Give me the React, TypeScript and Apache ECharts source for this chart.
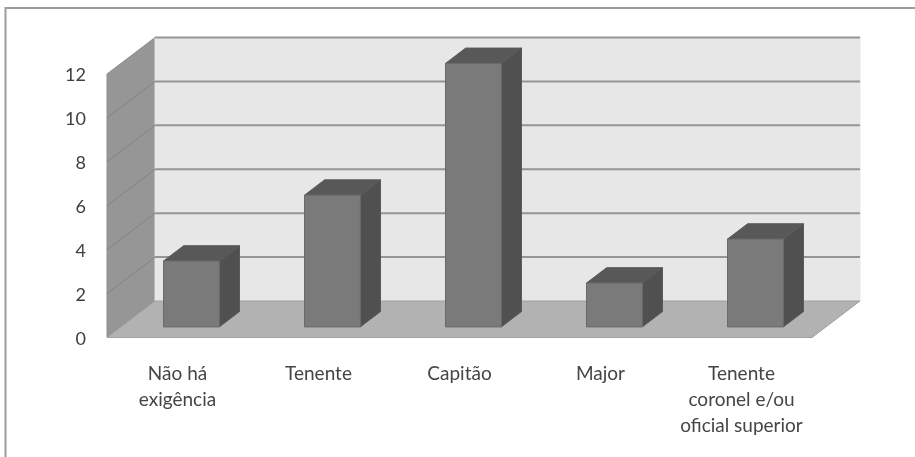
import React, { useEffect, useRef } from "react";
import * as echarts from "echarts";

const categories = ["Não há\nexigência", "Tenente", "Capitão", "Major", "Tenente\ncoronel e/ou\noficial superior"];
const values = [3, 6, 12, 2, 4];
const yTicks = [0, 2, 4, 6, 8, 10, 12];

const DEPTH_X = 48;
const DEPTH_Y = -36.5;
const BAR_NEAR = 0.29;
const BAR_FAR = 0.71;
const BAR_WIDTH_RATIO = 0.396;

const poly = (points: number[][], fill: string, stroke?: string, lineWidth = 1) => ({
  type: "polygon",
  shape: { points },
  style: { fill, stroke: stroke ?? fill, lineWidth },
});
const seg = (a: number[], b: number[], stroke: string, lineWidth: number) => ({
  type: "line",
  shape: { x1: a[0], y1: a[1], x2: b[0], y2: b[1] },
  style: { stroke, lineWidth },
});

const renderWalls = (params: any, api: any) => {
  if (params.dataIndex !== 0) return { type: "group", children: [] };
  const cs = params.coordSys;
  const left = cs.x;
  const right = cs.x + cs.width;
  const yAt = (v: number) => api.coord([0, v])[1];
  const y0 = yAt(0);
  const yTop = yAt(yTicks[yTicks.length - 1]);
  const back = (x: number, y: number) => [x + DEPTH_X, y + DEPTH_Y];
  const children: any[] = [
    poly([[left, yTop], back(left, yTop), back(left, y0), [left, y0]], "#969696", "#8f8f8f"),
    poly([back(left, yTop), back(right, yTop), back(right, y0), back(left, y0)], "#e7e7e7", "#e7e7e7"),
    poly([[left, y0], back(left, y0), back(right, y0), [right, y0]], "#b2b2b2", "#a0a0a0"),
  ];
  yTicks.forEach((t) => {
    const y = yAt(t);
    if (t > 0) children.push(seg(back(left, y), back(right, y), "#959595", 2));
    if (t > 0 && t < 12) children.push(seg([left, y], back(left, y), "#838383", 1));
  });
  return { type: "group", children };
};

const renderBar = (_params: any, api: any) => {
  const c = api.coord([api.value(0), 0]);
  const t = api.coord([api.value(0), api.value(1)]);
  const w = api.size([1, 0])[0] * BAR_WIDTH_RATIO;
  const nx = DEPTH_X * BAR_NEAR;
  const ny = DEPTH_Y * BAR_NEAR;
  const dx = DEPTH_X * (BAR_FAR - BAR_NEAR);
  const dy = DEPTH_Y * (BAR_FAR - BAR_NEAR);
  const x0 = c[0] + nx - w / 2;
  const x1 = c[0] + nx + w / 2;
  const yb = c[1] + ny;
  const yt = t[1] + ny;
  return {
    type: "group",
    children: [
      poly([[x1, yt], [x1 + dx, yt + dy], [x1 + dx, yb + dy], [x1, yb]], "#505050", "#5a5a5a"),
      poly([[x0, yt], [x0 + dx, yt + dy], [x1 + dx, yt + dy], [x1, yt]], "#585858", "#5a5a5a"),
      poly([[x0, yt], [x1, yt], [x1, yb], [x0, yb]], "#7a7a7a", "#6a6a6a"),
    ],
  };
};

export default function App() {
  const ref = useRef<HTMLDivElement>(null);
  useEffect(() => {
    document.body.style.margin = "0";
    document.body.style.background = "#fff";
    const chart = echarts.init(ref.current!, undefined, { renderer: "svg" });
    chart.setOption({
      animation: false,
      backgroundColor: "#fff",
      grid: { left: 107, top: 74, width: 705, height: 263.5 },
      xAxis: {
        type: "category",
        data: categories,
        axisLine: { show: false },
        axisTick: { show: false },
        splitLine: { show: false },
        axisLabel: {
          interval: 0,
          margin: 22,
          fontFamily: "Lato",
          fontSize: 19,
          lineHeight: 26,
          color: "#454545",
        },
      },
      yAxis: {
        type: "value",
        min: 0,
        max: 12,
        interval: 2,
        axisLine: { show: false },
        axisTick: { show: false },
        splitLine: { show: false },
        axisLabel: { margin: 21, fontFamily: "Lato", fontSize: 18, color: "#404040" },
      },
      graphic: [
        {
          type: "rect",
          silent: true,
          z: -1,
          shape: { x: 5.5, y: 8, width: 915, height: 460 },
          style: { fill: "transparent", stroke: "#9c9c9c", lineWidth: 2 },
        },
      ],
      series: [
        {
          type: "custom",
          coordinateSystem: "cartesian2d",
          renderItem: renderWalls,
          data: values.map((v, i) => [i, v]),
          encode: { x: 0, y: 1 },
          clip: false,
          silent: true,
          z: 1,
        },
        {
          type: "custom",
          coordinateSystem: "cartesian2d",
          renderItem: renderBar,
          data: values.map((v, i) => [i, v]),
          encode: { x: 0, y: 1 },
          clip: false,
          silent: true,
          z: 2,
        },
      ],
    });
    return () => chart.dispose();
  }, []);
  return (
    <div
      ref={ref}
      style={{
        position: "absolute",
        left: 0,
        top: 0,
        width: 915,
        height: 457,
        overflow: "hidden",
        filter: "blur(0.5px)",
      }}
    />
  );
}
